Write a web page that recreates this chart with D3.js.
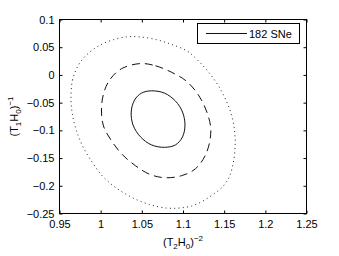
<!DOCTYPE html>
<html><head><meta charset="utf-8">
<script src="https://cdn.jsdelivr.net/npm/d3@7"></script>
<style>
html,body{margin:0;padding:0;background:#fff;}
svg{display:block;font-family:"Liberation Sans",Arial,Helvetica,sans-serif;}
</style></head>
<body>
<svg id="c" width="339" height="256"></svg>
<script>
// ---- data ----
const xTicks = [0.95, 1, 1.05, 1.1, 1.15, 1.2, 1.25];
const xTickLabels = ["0.95", "1", "1.05", "1.1", "1.15", "1.2", "1.25"];
const yTicks = [0.1, 0.05, 0, -0.05, -0.1, -0.15, -0.2, -0.25];
const yTickLabels = ["0.1", "0.05", "0", "\u22120.05", "\u22120.1", "\u22120.15", "\u22120.2", "\u22120.25"];
const legendLabel = "182 SNe";

// contour 1 (solid)
const contourSolid = [
  [1.0617,-0.0287],[1.0775,-0.0328],[1.0909,-0.0472],[1.0994,-0.0669],[1.1024,-0.0903],
  [1.0994,-0.1118],[1.0909,-0.1262],[1.0775,-0.1306],[1.0617,-0.1262],[1.0484,-0.1118],
  [1.0393,-0.0903],[1.0371,-0.0669],[1.0411,-0.0454],[1.0496,-0.0328]
];
// contour 2 (dashed)
const contourDashed = [
  [1.0484,0.0205],[1.0666,0.0165],[1.0860,0.0049],[1.1042,-0.0113],[1.1188,-0.0364],
  [1.1285,-0.0651],[1.1338,-0.0992],[1.1285,-0.1405],[1.1152,-0.1692],[1.0982,-0.1818],
  [1.0775,-0.1854],[1.0593,-0.1791],[1.0423,-0.1638],[1.0265,-0.1441],[1.0132,-0.1190],
  [1.0034,-0.0921],[1.0010,-0.0633],[1.0034,-0.0346],[1.0107,-0.0095],[1.0253,0.0112]
];
// contour 3 (dotted)
const contourDotted = [
  [0.9640,-0.0454],[0.9658,-0.0095],[0.9743,0.0210],[0.9864,0.0408],[0.9998,0.0542],
  [1.0156,0.0636],[1.0314,0.0686],[1.0472,0.0686],[1.0678,0.0636],[1.0860,0.0551],
  [1.1055,0.0426],[1.1200,0.0234],[1.1322,0.0031],[1.1425,-0.0185],[1.1522,-0.0454],
  [1.1589,-0.0723],[1.1625,-0.0992],[1.1634,-0.1226],[1.1617,-0.1531],[1.1565,-0.1831],
  [1.1483,-0.2015],[1.1362,-0.2159],[1.1237,-0.2279],[1.1103,-0.2365],[1.0957,-0.2401],
  [1.0796,-0.2401],[1.0593,-0.2338],[1.0390,-0.2218],[1.0189,-0.2039],[1.0026,-0.1831],
  [0.9904,-0.1590],[0.9783,-0.1292],[0.9703,-0.0992],[0.9658,-0.0723]
];

// ---- layout ----
const svg = d3.select("#c");
const L = 59.5, R = 306.5, T = 19.5, B = 213.5;
const x = d3.scaleLinear().domain([0.95, 1.25]).range([L, R]);
const y = d3.scaleLinear().domain([-0.25, 0.1]).range([B, T]);
const fs = 11;

// contours
const line = d3.line().x(d => x(d[0])).y(d => y(d[1])).curve(d3.curveCatmullRomClosed);
const g = svg.append("g");
g.append("path").datum(contourDotted).attr("d", line)
  .attr("fill", "none").attr("stroke", "#222").attr("stroke-width", 1)
  .attr("stroke-dasharray", "1 3.3");
g.append("path").datum(contourDashed).attr("d", line)
  .attr("fill", "none").attr("stroke", "#111").attr("stroke-width", 1)
  .attr("stroke-dasharray", "8 5");
g.append("path").datum(contourSolid).attr("d", line)
  .attr("fill", "none").attr("stroke", "#111").attr("stroke-width", 1);

// axes
const fmtX = (d) => xTickLabels[xTicks.indexOf(d)];
const fmtY = (d) => yTickLabels[yTicks.indexOf(d)];
const ax = svg.append("g").attr("transform", `translate(0,${B})`)
  .call(d3.axisBottom(x).tickValues(xTicks).tickFormat(fmtX).tickSizeInner(-3).tickSizeOuter(0).tickPadding(7));
const axT = svg.append("g").attr("transform", `translate(0,${T})`)
  .call(d3.axisTop(x).tickValues(xTicks).tickFormat("").tickSizeInner(-3).tickSizeOuter(0));
const ay = svg.append("g").attr("transform", `translate(${L},0)`)
  .call(d3.axisLeft(y).tickValues(yTicks).tickFormat(fmtY).tickSizeInner(-3).tickSizeOuter(0).tickPadding(5));
const ayR = svg.append("g").attr("transform", `translate(${R},0)`)
  .call(d3.axisRight(y).tickValues(yTicks).tickFormat("").tickSizeInner(-3).tickSizeOuter(0));
[ax, axT, ay, ayR].forEach(a => {
  a.select(".domain").remove();
  a.selectAll("text").attr("font-size", fs).attr("font-family", "Liberation Sans, Arial, sans-serif").attr("fill", "#000");
  a.selectAll("line").attr("stroke", "#000");
});
svg.append("rect").attr("x", L).attr("y", T).attr("width", R - L).attr("height", B - T)
  .attr("fill", "none").attr("stroke", "#000").attr("stroke-width", 1);

// x title
const xt = svg.append("text").attr("x", (L + R) / 2).attr("y", 246).attr("text-anchor", "middle").attr("font-size", fs);
xt.append("tspan").text("(T");
xt.append("tspan").attr("dy", 3).attr("font-size", 8).text("2");
xt.append("tspan").attr("dy", -3).text("H");
xt.append("tspan").attr("dy", 3).attr("font-size", 8).text("0");
xt.append("tspan").attr("dy", -3).text(")");
xt.append("tspan").attr("dy", -5).attr("font-size", 8).text("\u22122");

// y title
const yt = svg.append("text").attr("transform", `translate(18,${(T + B) / 2}) rotate(-90)`)
  .attr("text-anchor", "middle").attr("font-size", fs);
yt.append("tspan").text("(T");
yt.append("tspan").attr("dy", 3).attr("font-size", 8).text("1");
yt.append("tspan").attr("dy", -3).text("H");
yt.append("tspan").attr("dy", 3).attr("font-size", 8).text("0");
yt.append("tspan").attr("dy", -3).text(")");
yt.append("tspan").attr("dy", -5).attr("font-size", 8).text("\u22121");

// legend
const lg = svg.append("g");
lg.append("rect").attr("x", 197.5).attr("y", 23.5).attr("width", 102).attr("height", 20)
  .attr("fill", "#fff").attr("stroke", "#000").attr("stroke-width", 1);
lg.append("line").attr("x1", 206).attr("x2", 247).attr("y1", 33.5).attr("y2", 33.5)
  .attr("stroke", "#111").attr("stroke-width", 1);
lg.append("text").attr("x", 249).attr("y", 37.5).attr("font-size", fs).text(legendLabel);
</script>
</body></html>
